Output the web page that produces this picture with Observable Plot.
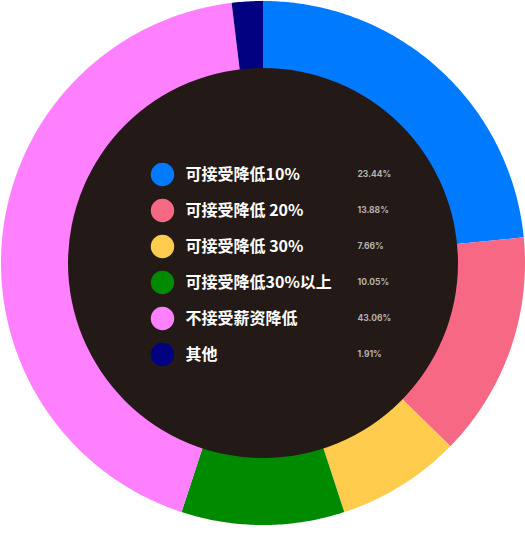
<!DOCTYPE html>
<html>
<head>
<meta charset="utf-8">
<script src="https://cdn.jsdelivr.net/npm/d3@7"></script>
<script src="https://cdn.jsdelivr.net/npm/@observablehq/plot@0.6"></script>
<style>
  html, body { margin: 0; padding: 0; background: #ffffff; }
  #chart svg { display: block; }
</style>
</head>
<body>
<div id="chart"></div>
<script>
const categories = ["可接受降低10%", "可接受降低 20%", "可接受降低 30%", "可接受降低30%以上", "不接受薪资降低", "其他"];
const values = [23.44, 13.88, 7.66, 10.05, 43.06, 1.91];
const valueLabels = ["23.44%", "13.88%", "7.66%", "10.05%", "43.06%", "1.91%"];
const colors = ["#007AFF", "#F66884", "#FFCC4D", "#008A00", "#FF80FF", "#000080"];

const W = 525, H = 525;
const R_OUT = 262, R_IN = 190, R_HOLE = 195;

const rows = categories.map((c, i) => ({category: c, value: values[i], label: valueLabels[i], index: i}));
const arcs = d3.pie().sort(null).value(d => d.value)(rows);

// Build ring polygons from pie angles
const ringPts = [];
for (const a of arcs) {
  const n = Math.max(2, Math.ceil((a.endAngle - a.startAngle) / 0.01) + 1);
  const outer = d3.range(n).map(k => a.startAngle + (a.endAngle - a.startAngle) * k / (n - 1));
  for (const t of outer) ringPts.push({category: a.data.category, x: R_OUT * Math.sin(t), y: R_OUT * Math.cos(t)});
  for (const t of outer.slice().reverse()) ringPts.push({category: a.data.category, x: R_IN * Math.sin(t), y: R_IN * Math.cos(t)});
}

// Legend layout (pixel offsets relative to chart center)
const legX = 162 - W / 2, legY0 = W / 2 - 174, legStep = 36;
const legend = rows.map(d => ({...d, y: legY0 - legStep * d.index}));

const chart = Plot.plot({
  width: W,
  height: H,
  margin: 0,
  x: {domain: [-W / 2, W / 2], range: [0, W], axis: null},
  y: {domain: [-H / 2, H / 2], range: [H, 0], axis: null},
  color: {domain: categories, range: colors},
  marks: [
    Plot.line(ringPts, {x: "x", y: "y", z: "category", fill: "category", stroke: "none", curve: "linear"}),
    Plot.dot([{x: 0, y: 0}], {x: "x", y: "y", r: R_HOLE, fill: "#231A18", stroke: "none"}),
    Plot.dot(legend, {x: () => legX, y: "y", r: 11.7, fill: "category", stroke: "none"}),
    Plot.text(legend, {x: () => legX + 23, y: "y", text: "category", fill: "#ffffff", fontSize: 16, fontWeight: "bold",
      fontFamily: "'Noto Sans CJK SC', 'Noto Sans', sans-serif", textAnchor: "start", dy: 0.5}),
    Plot.text(legend, {x: () => 357 - W / 2, y: "y", text: "label", fill: "#b9b1ae", fontSize: 8.5, fontWeight: "bold",
      fontFamily: "Inter, 'Noto Sans', sans-serif", textAnchor: "start"})
  ]
});
document.getElementById("chart").append(chart);
</script>
</body>
</html>
